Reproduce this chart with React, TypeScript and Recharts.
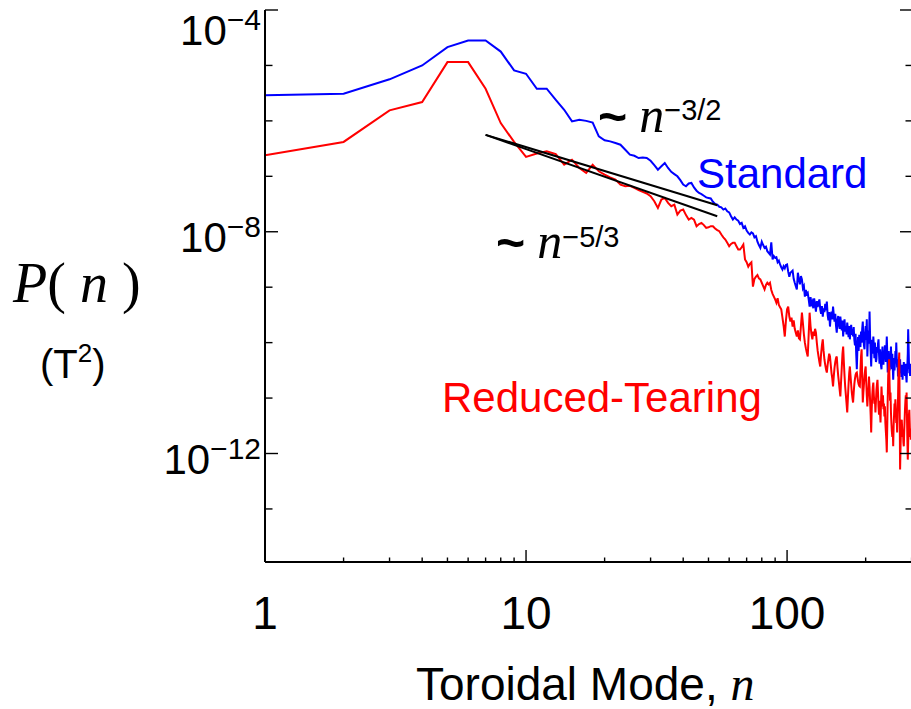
import { LineChart, Line, XAxis, YAxis } from "recharts";

// log10 of P(n) in T^2, for toroidal modes n = 1, 2, 3, ...
const standardLog = [
  -5.54, -5.51, -5.25, -5.0, -4.67, -4.55, -4.55, -4.75, -5.09, -5.15,
  -5.42, -5.42, -5.62, -5.8, -6.01, -5.98, -6.0, -6.03, -6.28, -6.35,
  -6.37, -6.4, -6.43, -6.52, -6.61, -6.63, -6.67, -6.66, -6.67, -6.72,
  -6.8, -6.88, -6.82, -6.76, -6.85, -6.92, -6.96, -7.0, -7.07, -7.15,
  -7.18, -7.13, -7.12, -7.2, -7.26, -7.3, -7.32, -7.35, -7.38, -7.39,
  -7.4, -7.46, -7.5, -7.51, -7.55, -7.56, -7.6, -7.58, -7.63, -7.65,
  -7.72, -7.78, -7.74, -7.78, -7.8, -7.86, -7.84, -7.93, -7.9, -7.98,
  -8.02, -8.05, -8.01, -8.03, -8.1, -8.08, -8.18, -8.24, -8.29, -8.18,
  -8.24, -8.29, -8.27, -8.35, -8.38, -8.41, -8.19, -8.5, -8.44, -8.47,
  -8.46, -8.55, -8.52, -8.59, -8.64, -8.68, -8.62, -8.66, -8.6, -8.59,
  -8.72, -8.81, -8.74, -8.72, -8.7, -8.85, -8.92, -8.98, -9.04, -8.74,
  -8.86, -8.95, -8.8, -8.86, -9.02, -8.98, -9.17, -9.05, -9.12, -9.1,
  -9.22, -9.35, -9.18, -9.3, -9.26, -9.38, -9.2, -9.32, -9.44, -9.25,
  -9.36, -9.28, -9.22, -9.4, -9.48, -9.34, -9.53, -9.38, -9.45, -9.3,
  -9.42, -9.26, -9.5, -9.6, -9.45, -9.71, -9.52, -9.44, -9.58, -9.35,
  -9.5, -9.62, -9.48, -9.7, -9.82, -9.6, -9.52, -9.68, -9.75, -9.53,
  -9.66, -9.78, -9.6, -9.89, -9.72, -9.58, -9.8, -9.7, -9.85, -9.64,
  -9.76, -9.9, -9.7, -9.94, -9.8, -9.68, -9.86, -9.75, -9.89, -9.72,
  -9.95, -10.05, -9.84, -10.2, -10.48, -10.1, -9.9, -10.15, -9.86, -9.94,
  -10.08, -9.8, -10.0, -9.75, -9.62, -9.9, -10.05, -10.12, -9.85, -9.7,
  -9.95, -9.58, -10.25, -9.96, -9.78, -10.02, -9.44, -9.9, -10.15, -10.43,
  -10.1, -9.95, -10.2, -9.89, -10.05, -10.28, -10.0, -10.22, -10.35, -10.3,
  -10.08, -10.18, -10.02, -9.94, -10.2, -10.38, -10.12, -10.3, -10.42, -10.48,
  -10.22, -10.07, -10.25, -10.4, -10.15, -10.3, -10.05, -10.22, -10.35, -10.12,
  -9.89, -10.2, -10.54, -10.3, -10.15, -10.38, -10.5, -10.25, -10.4, -10.07,
  -10.3, -10.48, -10.2, -10.42, -10.67, -10.45, -10.28, -10.5, -10.36, -10.15,
  -10.32, -10.0, -10.25, -10.45, -10.3, -10.61, -10.4, -10.52, -10.35, -10.48,
  -10.3, -10.55, -10.42, -10.62, -10.5, -10.4, -10.67, -10.48, -10.58, -10.35,
  -10.5, -10.43, -10.6, -10.52, -10.38, -10.62, -10.72, -10.5, -10.4, -10.2,
  -9.76, -10.05, -10.35, -10.55, -10.42, -10.6, -10.38, -10.48,
];

const tearingLog = [
  -6.62, -6.38, -5.81, -5.66, -4.94, -4.94, -5.42, -6.04, -6.38, -6.65,
  -6.59, -6.55, -6.6, -6.79, -6.7, -6.85, -6.94, -6.79, -6.91, -6.97,
  -7.02, -7.06, -7.15, -7.18, -7.17, -7.21, -7.25, -7.28, -7.31, -7.36,
  -7.45, -7.57, -7.42, -7.39, -7.48, -7.54, -7.51, -7.69, -7.62, -7.6,
  -7.7, -7.78, -7.75, -7.78, -7.9, -7.86, -7.84, -7.88, -7.93, -7.92,
  -7.9, -7.9, -7.94, -7.97, -7.99, -8.05, -8.1, -8.14, -8.2, -8.26,
  -8.22, -8.2, -8.2, -8.26, -8.32, -8.32, -8.28, -8.23, -8.5, -8.55,
  -8.63, -8.58, -8.55, -8.99, -8.85, -8.81, -8.78, -8.84, -8.86, -8.92,
  -8.98, -9.04, -8.96, -8.92, -8.95, -8.92, -9.05, -9.12, -9.17, -9.22,
  -9.28, -9.2, -9.32, -9.36, -9.4, -9.55, -9.7, -9.89, -9.6, -9.4,
  -9.35, -9.53, -9.62, -9.55, -9.71, -9.6, -9.75, -9.82, -9.89, -9.78,
  -9.92, -9.94, -9.7, -9.46, -9.65, -9.85, -10.0, -10.1, -10.18, -10.25,
  -9.85, -9.46, -9.7, -9.85, -9.94, -9.8, -9.88, -9.75, -9.82, -10.0,
  -10.15, -10.25, -10.35, -10.43, -10.2, -10.05, -9.94, -10.15, -10.3, -10.4,
  -10.48, -10.54, -10.4, -10.3, -10.2, -10.25, -10.4, -10.55, -10.65, -10.79,
  -10.6, -10.45, -10.35, -10.28, -10.25, -10.45, -10.6, -10.72, -10.85, -10.97,
  -10.7, -10.45, -10.2, -10.07, -10.35, -10.6, -10.8, -10.95, -11.1, -11.26,
  -11.0, -10.75, -10.55, -10.43, -10.6, -10.75, -10.9, -11.0, -11.08, -10.9,
  -10.75, -10.65, -10.58, -10.55, -10.54, -10.62, -10.7, -10.75, -10.78, -10.79,
  -10.5, -10.25, -10.12, -10.6, -11.08, -10.9, -10.75, -10.6, -10.5, -10.43,
  -10.7, -10.95, -11.15, -10.95, -10.85, -10.61, -10.8, -11.05, -11.3, -11.62,
  -11.2, -10.95, -10.8, -10.72, -10.95, -11.1, -11.0, -11.26, -11.05, -10.85,
  -10.75, -10.67, -10.9, -11.15, -11.3, -11.05, -11.25, -11.44, -11.1, -10.79,
  -11.0, -11.15, -10.95, -11.2, -11.1, -11.33, -11.15, -11.45, -11.6, -11.75,
  -11.98, -11.5, -11.0, -10.6, -10.45, -10.3, -10.75, -11.05, -10.9, -11.26,
  -11.45, -11.6, -11.7, -11.55, -11.87, -11.5, -11.3, -11.1, -11.2, -11.02,
  -11.25, -11.45, -11.35, -11.62, -11.3, -11.05, -10.6, -10.35, -10.18, -11.2,
  -12.29, -11.9, -11.6, -11.45, -11.39, -11.55, -11.7, -11.6, -11.8, -11.87,
  -11.6, -11.4, -11.2, -11.05, -10.95, -11.1, -10.9, -11.35, -11.75, -12.11,
  -11.8, -11.5, -11.3, -11.21, -11.45, -11.7, -11.55, -11.75,
];

// power-law guide lines, drawn between n = 7 and n = 54
const guide32 = [
  { n: 7, p: 5.6e-7 },
  { n: 54, p: 3.0e-8 },
];
const guide53 = [
  { n: 7, p: 5.6e-7 },
  { n: 54, p: 1.9e-8 },
];

const xTicks = [1, 2, 3, 4, 5, 6, 7, 8, 9, 10, 20, 30, 40, 50, 60, 70, 80, 90, 100, 200, 300];
const xLabeled = [1, 10, 100];
const yTicks = [1e-4, 1e-5, 1e-6, 1e-7, 1e-8, 1e-9, 1e-10, 1e-11, 1e-12, 1e-13];
const yLabeled = [-4, -8, -12];

const standard = standardLog.map((v, i) => ({ n: i + 1, p: Math.pow(10, v) }));
const tearing = tearingLog.map((v, i) => ({ n: i + 1, p: Math.pow(10, v) }));

const SANS = "'Liberation Sans', Arial, Helvetica, sans-serif";
const SERIF = "'Liberation Serif', 'Times New Roman', serif";

function BottomTick({ x, y, payload }: any) {
  const v = payload.value;
  const major = xLabeled.includes(v);
  return (
    <g>
      <line x1={x} x2={x} y1={y} y2={y - (major ? 12 : 4.5)} stroke="#000" strokeWidth={1.4} />
      {major && (
        <text x={x} y={y + 67} textAnchor="middle" fontSize={46} fontFamily={SANS} fill="#000">
          {v}
        </text>
      )}
    </g>
  );
}

function TopTick({ x, y, payload }: any) {
  const major = xLabeled.includes(payload.value);
  return <line x1={x} x2={x} y1={y} y2={y + (major ? 12 : 4.5)} stroke="#000" strokeWidth={1.4} />;
}

function LeftTick({ x, y, payload }: any) {
  const e = Math.round(Math.log10(payload.value));
  const major = yLabeled.includes(e);
  const base = e === -4 ? 45 : y + 20;
  return (
    <g>
      <line x1={x} x2={x + (major ? 13 : 7.5)} y1={y} y2={y} stroke="#000" strokeWidth={1.4} />
      {major && (
        <text x={x - 4} y={base} textAnchor="end" fontSize={42} fontFamily={SANS} fill="#000">
          10
          <tspan dy={-15} fontSize={30}>
            {"\u2212" + Math.abs(e)}
          </tspan>
        </text>
      )}
    </g>
  );
}

function RightTick({ x, y, payload }: any) {
  const e = Math.round(Math.log10(payload.value));
  const major = yLabeled.includes(e);
  return <line x1={x} x2={x - (major ? 12 : 6.5)} y1={y} y2={y} stroke="#000" strokeWidth={1.4} />;
}

const axisLine = { stroke: "#000", strokeWidth: 2 };

export default function App() {
  return (
    <div
      style={{
        position: "absolute",
        left: 0,
        top: 0,
        width: 911,
        height: 709,
        overflow: "hidden",
        background: "#fff",
      }}
    >
      <LineChart width={913} height={709} margin={{ top: 10, right: 0, bottom: 0, left: 0 }}>
        <XAxis
          xAxisId="b"
          type="number"
          dataKey="n"
          scale="log"
          domain={[1, 301]}
          allowDataOverflow
          ticks={xTicks}
          interval={0}
          height={147}
          tickSize={0}
          tickMargin={0}
          tickLine={false}
          axisLine={axisLine}
          tick={(p: any) => <BottomTick {...p} />}
        />
        <XAxis
          xAxisId="t"
          orientation="top"
          type="number"
          dataKey="n"
          scale="log"
          domain={[1, 301]}
          allowDataOverflow
          ticks={xTicks}
          interval={0}
          height={0}
          tickSize={0}
          tickMargin={0}
          tickLine={false}
          axisLine={axisLine}
          tick={(p: any) => <TopTick {...p} />}
        />
        <YAxis
          yAxisId="l"
          type="number"
          scale="log"
          domain={[1.104e-14, 1e-4]}
          allowDataOverflow
          ticks={yTicks}
          interval={0}
          width={265}
          tickSize={0}
          tickMargin={0}
          tickLine={false}
          axisLine={axisLine}
          tick={(p: any) => <LeftTick {...p} />}
        />
        <YAxis
          yAxisId="r"
          orientation="right"
          type="number"
          scale="log"
          domain={[1.104e-14, 1e-4]}
          allowDataOverflow
          ticks={yTicks}
          interval={0}
          width={1}
          tickSize={0}
          tickMargin={0}
          tickLine={false}
          axisLine={axisLine}
          tick={(p: any) => <RightTick {...p} />}
        />
        <Line
          xAxisId="b"
          yAxisId="l"
          data={standard}
          dataKey="p"
          type="linear"
          stroke="#0000FF"
          strokeWidth={2}
          dot={false}
          isAnimationActive={false}
        />
        <Line
          xAxisId="b"
          yAxisId="l"
          data={tearing}
          dataKey="p"
          type="linear"
          stroke="#FF0000"
          strokeWidth={2}
          dot={false}
          isAnimationActive={false}
        />
        <Line
          xAxisId="b"
          yAxisId="l"
          data={guide32}
          dataKey="p"
          type="linear"
          stroke="#000"
          strokeWidth={2}
          dot={false}
          isAnimationActive={false}
        />
        <Line
          xAxisId="b"
          yAxisId="l"
          data={guide53}
          dataKey="p"
          type="linear"
          stroke="#000"
          strokeWidth={2}
          dot={false}
          isAnimationActive={false}
        />
      </LineChart>
      <svg
        width={911}
        height={709}
        style={{ position: "absolute", left: 0, top: 0, pointerEvents: "none" }}
      >
        <text x={13} y={302} fontSize={56} fontFamily={SERIF} fill="#000">
          <tspan fontStyle="italic">P</tspan>
          <tspan>( </tspan>
          <tspan fontStyle="italic">n</tspan>
          <tspan> )</tspan>
        </text>
        <text x={40} y={378} fontSize={40} fontFamily={SANS} fill="#000">
          (T
          <tspan dy={-16} fontSize={26}>
            2
          </tspan>
          <tspan dy={16}>)</tspan>
        </text>
        <text x={416} y={700} fontSize={46} fontFamily={SANS} fill="#000">
          Toroidal Mode,{" "}
          <tspan fontFamily={SERIF} fontStyle="italic" fontSize={48}>
            n
          </tspan>
        </text>
        <text x={697} y={188} fontSize={42} fontFamily={SANS} fill="#0000FF">
          Standard
        </text>
        <text x={442} y={412} fontSize={42} fontFamily={SANS} fill="#FF0000">
          Reduced-Tearing
        </text>
        <text x={598} y={134} fill="#000">
          <tspan fontFamily={SANS} fontWeight="bold" fontSize={50}>
            ~
          </tspan>
          <tspan dx={12} dy={-2} fontFamily={SERIF} fontStyle="italic" fontSize={50}>
            n
          </tspan>
          <tspan dy={-12} fontFamily={SANS} fontSize={29}>
            {"\u22123/2"}
          </tspan>
        </text>
        <text x={496} y={260} fill="#000">
          <tspan fontFamily={SANS} fontWeight="bold" fontSize={50}>
            ~
          </tspan>
          <tspan dx={12} dy={-2} fontFamily={SERIF} fontStyle="italic" fontSize={50}>
            n
          </tspan>
          <tspan dy={-11} fontFamily={SANS} fontSize={29}>
            {"\u22125/3"}
          </tspan>
        </text>
      </svg>
    </div>
  );
}
